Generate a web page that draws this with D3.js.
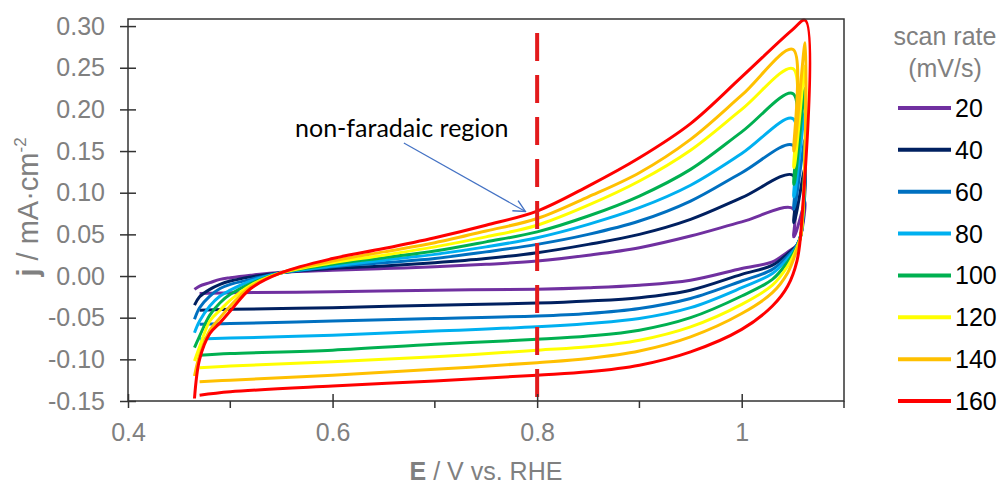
<!DOCTYPE html>
<html>
<head>
<meta charset="utf-8">
<script src="https://cdn.jsdelivr.net/npm/d3@7"></script>
<style>
  body { margin: 0; background: #fff; }
  svg { display: block; font-family: "Liberation Sans", Arial, sans-serif; }
</style>
</head>
<body>
<script>
const width = 1003;
const height = 484;
const plot = { left: 128, right: 844, top: 19, bottom: 401 };

// scan rates and their colours
const scanRates = [20, 40, 60, 80, 100, 120, 140, 160];
const colors = ["#7030a0", "#002060", "#0070c0", "#00b0f0", "#00b050", "#ffff00", "#ffc000", "#ff0000"];

// forward (anodic) sweep
const anodicE = [0.465, 0.47, 0.48, 0.49, 0.50, 0.52, 0.55, 0.60, 0.65, 0.70, 0.75, 0.80, 0.85, 0.90, 0.95, 1.00, 1.05];
const anodic20  = [-0.016, -0.012, -0.008, -0.004, -0.002, 0.001, 0.0045, 0.007, 0.009, 0.011, 0.014, 0.018, 0.025, 0.034, 0.048, 0.065, 0.081];
const anodic40  = [-0.035, -0.025, -0.016, -0.010, -0.006, -0.001, 0.004, 0.009, 0.012, 0.016, 0.021, 0.028, 0.038, 0.050, 0.068, 0.094, 0.121];
const anodic60  = [-0.052, -0.038, -0.024, -0.015, -0.010, -0.004, 0.004, 0.011, 0.016, 0.021, 0.029, 0.038, 0.050, 0.066, 0.090, 0.124, 0.157];
const anodic80  = [-0.068, -0.054, -0.036, -0.024, -0.017, -0.006, 0.004, 0.012, 0.019, 0.026, 0.035, 0.046, 0.062, 0.082, 0.109, 0.147, 0.189];
const anodic100 = [-0.086, -0.072, -0.047, -0.032, -0.022, -0.009, 0.004, 0.014, 0.022, 0.030, 0.041, 0.053, 0.072, 0.096, 0.128, 0.173, 0.219];
const anodic120 = [-0.102, -0.085, -0.054, -0.041, -0.029, -0.011, 0.004, 0.016, 0.025, 0.035, 0.047, 0.061, 0.085, 0.114, 0.151, 0.200, 0.249];
const anodic140 = [-0.120, -0.095, -0.065, -0.050, -0.036, -0.013, 0.004, 0.018, 0.029, 0.040, 0.054, 0.069, 0.095, 0.124, 0.164, 0.217, 0.272];
const anodic160 = [-0.147, -0.100, -0.069, -0.056, -0.042, -0.015, 0.004, 0.021, 0.033, 0.046, 0.061, 0.078, 0.108, 0.142, 0.183, 0.239, 0.296];

// small dip before the vertex, and the vertex current at E = 1.062 V
const jogLow = [0.047, 0.064, 0.080, 0.095, 0.110, 0.130, 0.150, null];
const peakJ  = [0.089, 0.131, 0.165, 0.197, 0.225, 0.252, 0.280, 0.307];

// reverse (cathodic) sweep
const cathodicE = [1.058, 1.054, 1.045, 1.03, 1.00, 0.95, 0.90, 0.85, 0.80, 0.70, 0.60, 0.50, 0.47];
const cathodic20  = [0.050, 0.037, 0.029, 0.017, 0.009, -0.005, -0.011, -0.014, -0.0158, -0.017, -0.019, -0.020, -0.021];
const cathodic40  = [0.050, 0.037, 0.027, 0.013, 0.002, -0.017, -0.026, -0.030, -0.0325, -0.035, -0.038, -0.040, -0.041];
const cathodic60  = [0.050, 0.037, 0.024, 0.008, -0.006, -0.027, -0.039, -0.045, -0.048, -0.051, -0.054, -0.057, -0.058];
const cathodic80  = [0.050, 0.036, 0.021, 0.003, -0.014, -0.038, -0.051, -0.057, -0.061, -0.066, -0.071, -0.0745, -0.0755];
const cathodic100 = [0.050, 0.035, 0.017, -0.004, -0.024, -0.050, -0.065, -0.072, -0.076, -0.082, -0.089, -0.093, -0.095];
const cathodic120 = [0.050, 0.034, 0.012, -0.011, -0.034, -0.061, -0.077, -0.085, -0.089, -0.097, -0.103, -0.108, -0.110];
const cathodic140 = [0.050, 0.032, 0.004, -0.020, -0.045, -0.073, -0.090, -0.099, -0.104, -0.112, -0.119, -0.125, -0.127];
const cathodic160 = [0.055, 0.018, -0.012, -0.036, -0.064, -0.091, -0.107, -0.115, -0.119, -0.126, -0.132, -0.139, -0.143];

const anodic = [anodic20, anodic40, anodic60, anodic80, anodic100, anodic120, anodic140, anodic160];
const cathodic = [cathodic20, cathodic40, cathodic60, cathodic80, cathodic100, cathodic120, cathodic140, cathodic160];

const yTicks = [-0.15, -0.10, -0.05, 0.00, 0.05, 0.10, 0.15, 0.20, 0.25, 0.30];
const xMajor = [0.4, 0.6, 0.8, 1.0];
const xMinor = [0.5, 0.7, 0.9, 1.1];
const markerE = 0.8;

const svg = d3.select("body")
    .append("svg")
    .attr("width", width)
    .attr("height", height);

const x = d3.scaleLinear().domain([0.4, 1.1]).range([plot.left, plot.right]);
const y = d3.scaleLinear().domain([-0.15, 0.3085]).range([plot.bottom, plot.top]);

// build each closed CV loop
const loops = scanRates.map((rate, i) => {
    const pts = anodicE.map((e, k) => [e, anodic[i][k]]);
    if (jogLow[i] !== null) pts.push([1.051, jogLow[i]]);
    pts.push([1.062, peakJ[i]]);
    cathodicE.forEach((e, k) => pts.push([e, cathodic[i][k]]));
    return { rate, color: colors[i], pts };
});

const line = d3.line()
    .x(d => x(d[0]))
    .y(d => y(d[1]))
    .curve(d3.curveCatmullRom.alpha(0.5));

svg.append("g")
    .selectAll("path")
    .data(loops)
    .join("path")
    .attr("d", d => line(d.pts))
    .attr("fill", "none")
    .attr("stroke", d => d.color)
    .attr("stroke-width", 3)
    .attr("stroke-linejoin", "round");

// dashed marker at 0.8 V
svg.append("line")
    .attr("x1", x(markerE)).attr("x2", x(markerE))
    .attr("y1", plot.top).attr("y2", plot.bottom)
    .attr("stroke", "#e31a1c")
    .attr("stroke-width", 4)
    .attr("stroke-dasharray", "28,14")
    .attr("stroke-dashoffset", 28);

// frame
svg.append("rect")
    .attr("x", plot.left).attr("y", plot.top)
    .attr("width", plot.right - plot.left)
    .attr("height", plot.bottom - plot.top)
    .attr("fill", "none")
    .attr("stroke", "#333")
    .attr("stroke-width", 1.5);

// axes
const gx = svg.append("g")
    .attr("transform", `translate(0,${plot.bottom})`)
    .call(d3.axisBottom(x).tickValues(xMajor).tickSize(7).tickPadding(15)
        .tickFormat(d => d === 1 ? "1" : d.toFixed(1)));
gx.select(".domain").remove();
gx.selectAll(".tick line").attr("y1", -7).attr("stroke", "#333").attr("stroke-width", 1.5);

gx.selectAll(".minor")
    .data(xMinor)
    .join("line")
    .attr("class", "minor")
    .attr("x1", d => x(d)).attr("x2", d => x(d))
    .attr("y1", 0).attr("y2", 7)
    .attr("stroke", "#333")
    .attr("stroke-width", 1.5);

const gy = svg.append("g")
    .attr("transform", `translate(${plot.left},0)`)
    .call(d3.axisLeft(y).tickValues(yTicks).tickSize(8).tickPadding(15)
        .tickFormat(d => d.toFixed(2)));
gy.select(".domain").remove();
gy.selectAll(".tick line").attr("x1", 8).attr("stroke", "#333").attr("stroke-width", 1.5);

svg.selectAll(".tick text")
    .attr("font-family", "'Liberation Sans', Arial, sans-serif")
    .attr("font-size", 25)
    .attr("fill", "#808080");

// axis titles
const xTitle = svg.append("text")
    .attr("x", (plot.left + plot.right) / 2)
    .attr("y", 480)
    .attr("text-anchor", "middle")
    .attr("font-size", 25)
    .attr("fill", "#808080");
xTitle.append("tspan").attr("font-weight", "bold").text("E");
xTitle.append("tspan").text(" / V vs. RHE");

const yTitle = svg.append("text")
    .attr("transform", "translate(38,207) rotate(-90)")
    .attr("text-anchor", "middle")
    .attr("font-size", 29)
    .attr("fill", "#808080");
yTitle.append("tspan").attr("font-weight", "bold").text("j");
yTitle.append("tspan").text(" / mA·cm");
yTitle.append("tspan").attr("font-size", 17).attr("dy", -12).text("-2");

// annotation
svg.append("defs").append("marker")
    .attr("id", "arrow")
    .attr("viewBox", "0 0 12 12")
    .attr("refX", 11).attr("refY", 6)
    .attr("markerWidth", 14).attr("markerHeight", 14)
    .attr("markerUnits", "userSpaceOnUse")
    .attr("orient", "auto")
    .append("path")
    .attr("d", "M1,1 L11,6 L1,11")
    .attr("fill", "none")
    .attr("stroke", "#4472c4")
    .attr("stroke-width", 1.2);

svg.append("line")
    .attr("x1", x(0.6697)).attr("y1", y(0.1596))
    .attr("x2", x(0.7885)).attr("y2", y(0.0775))
    .attr("stroke", "#4472c4")
    .attr("stroke-width", 1.2)
    .attr("marker-end", "url(#arrow)");

svg.append("text")
    .attr("x", 295)
    .attr("y", 137)
    .attr("font-family", "Lato, 'Open Sans', sans-serif")
    .attr("font-size", 25)
    .attr("fill", "#000")
    .text("non-faradaic region");

// legend
const legend = svg.append("g");
legend.append("text")
    .attr("x", 945).attr("y", 45)
    .attr("text-anchor", "middle")
    .attr("font-size", 25)
    .attr("fill", "#808080")
    .text("scan rate");
legend.append("text")
    .attr("x", 945).attr("y", 77)
    .attr("text-anchor", "middle")
    .attr("font-size", 25)
    .attr("fill", "#808080")
    .text("(mV/s)");

const row = d3.scaleLinear().domain([0, scanRates.length - 1]).range([108, 401]);
const items = legend.selectAll(".item")
    .data(loops)
    .join("g")
    .attr("class", "item")
    .attr("transform", (d, i) => `translate(0,${row(i)})`);
items.append("line")
    .attr("x1", 898).attr("x2", 951)
    .attr("stroke", d => d.color)
    .attr("stroke-width", 4);
items.append("text")
    .attr("x", 955)
    .attr("dy", "0.36em")
    .attr("font-size", 25)
    .attr("fill", "#000")
    .text(d => d.rate);
</script>
</body>
</html>
